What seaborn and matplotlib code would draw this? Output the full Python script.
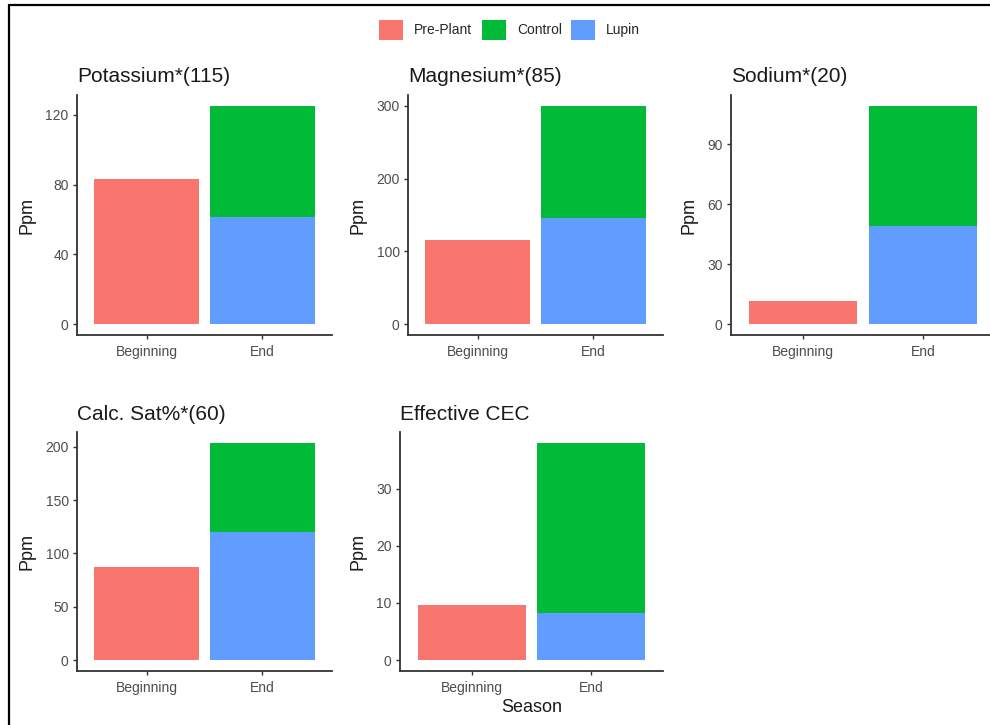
import matplotlib
matplotlib.use("Agg")
import matplotlib.pyplot as plt
from matplotlib.patches import Patch
from matplotlib.lines import Line2D
import seaborn as sns
import pandas as pd

# Soil test results per nutrient: pre-plant level at the beginning of the season,
# and lupin / control levels at the end of the season (stacked).
seasons = ["Beginning", "End"]
treatments = ["Pre-Plant", "Control", "Lupin"]
palette = {"Pre-Plant": "#F8766D", "Control": "#00BA38", "Lupin": "#619CFF"}

nutrients = ["Potassium*(115)", "Magnesium*(85)", "Sodium*(20)",
             "Calc. Sat%*(60)", "Effective CEC"]
pre_plant = [83.0, 115.0, 11.6, 87.7, 9.6]
lupin = [61.3, 145.8, 49.1, 119.7, 8.3]
control = [63.9, 154.2, 60.2, 84.0, 29.7]
y_ticks = [[0, 40, 80, 120], [0, 100, 200, 300], [0, 30, 60, 90],
           [0, 50, 100, 150, 200], [0, 10, 20, 30]]

sns.set_theme(style="ticks")
plt.rcParams["font.family"] = ["Liberation Sans", "DejaVu Sans"]

W, H = 990, 725
fig = plt.figure(figsize=(W / 100, H / 100), dpi=100)

# panel boxes in pixels: left, right, top, bottom
boxes = [(77, 332, 95, 335), (408, 663, 95, 335), (731, 995, 95, 335),
         (77, 332, 432, 671), (400, 663, 432, 671)]

axis_dark = "#333333"
tick_grey = "#4D4D4D"

for i, name in enumerate(nutrients):
    l, r, t, b = boxes[i]
    ax = fig.add_axes([l / W, 1 - b / H, (r - l) / W, (b - t) / H])

    # stacked tops: lupin sits at the bottom, control on top of it
    df = pd.DataFrame({
        "Season": ["Beginning", "End", "End"],
        "Treatment": ["Pre-Plant", "Control", "Lupin"],
        "top": [pre_plant[i], lupin[i] + control[i], lupin[i]],
    })
    sns.barplot(data=df, x="Season", y="top", hue="Treatment",
                order=seasons, hue_order=treatments, palette=palette,
                dodge=False, width=0.9, saturation=1, errorbar=None,
                legend=False, linewidth=0, ax=ax)

    total = max(pre_plant[i], lupin[i] + control[i])
    ax.set_ylim(-0.05 * total, 1.05 * total)
    ax.set_xlim(-0.6, 1.6)
    ax.set_yticks(y_ticks[i])
    ax.set_yticklabels([str(v) for v in y_ticks[i]])

    sns.despine(ax=ax)
    for side in ("left", "bottom"):
        ax.spines[side].set_color(axis_dark)
        ax.spines[side].set_linewidth(1.3)
    ax.tick_params(axis="both", length=3, width=1.0, color=axis_dark,
                   labelcolor=tick_grey, labelsize=10, pad=3)
    ax.tick_params(axis="x", pad=4)

    ax.set_title(name, loc="left", fontsize=15, color="#1A1A1A", pad=9)
    ax.set_ylabel("Ppm", fontsize=13, color="#1A1A1A", labelpad=7)
    if i == 4:
        ax.set_xlabel("Season", fontsize=13, color="#1A1A1A", labelpad=3)
    else:
        ax.set_xlabel("")
    ax.set_facecolor("white")

handles = [Patch(facecolor=palette[t], edgecolor="none", label=t) for t in treatments]
fig.legend(handles=handles, loc="center", bbox_to_anchor=(0.515, 1 - 30 / H),
           ncol=3, frameon=False, fontsize=10, handlelength=1.7,
           handleheight=1.85, handletextpad=0.8, columnspacing=0.7)

# frame lines along the top and left edges
fig.add_artist(Line2D([8.5 / W, 8.5 / W], [0, 1 - 5 / H], color="black",
                      linewidth=1.6, transform=fig.transFigure))
fig.add_artist(Line2D([8.5 / W, 1], [1 - 5 / H, 1 - 5 / H], color="black",
                      linewidth=1.6, transform=fig.transFigure))

fig.savefig("out.png", dpi=100, facecolor="white")
